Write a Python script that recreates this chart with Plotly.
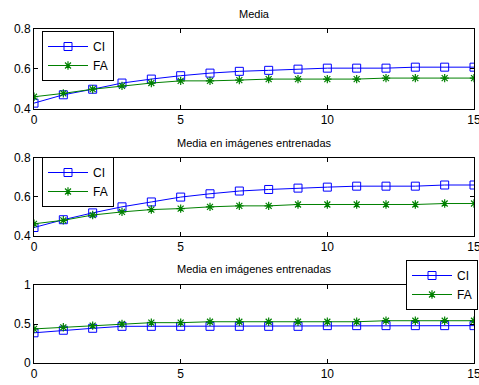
import plotly.graph_objects as go

x = list(range(16))
ci1 = [0.427, 0.469, 0.497, 0.528, 0.548, 0.565, 0.578, 0.587, 0.592, 0.598, 0.603, 0.603, 0.603, 0.608, 0.608, 0.608]
fa1 = [0.459, 0.476, 0.497, 0.514, 0.528, 0.539, 0.539, 0.543, 0.548, 0.548, 0.548, 0.548, 0.553, 0.553, 0.553, 0.553]
ci2 = [0.441, 0.481, 0.516, 0.547, 0.572, 0.597, 0.614, 0.628, 0.636, 0.643, 0.648, 0.653, 0.653, 0.653, 0.659, 0.659]
fa2 = [0.460, 0.478, 0.505, 0.521, 0.533, 0.538, 0.547, 0.552, 0.552, 0.559, 0.559, 0.559, 0.559, 0.559, 0.564, 0.564]
ci3 = [0.387, 0.420, 0.445, 0.470, 0.470, 0.470, 0.470, 0.470, 0.470, 0.470, 0.479, 0.479, 0.479, 0.479, 0.479, 0.479]
fa3 = [0.437, 0.458, 0.479, 0.500, 0.517, 0.517, 0.529, 0.529, 0.529, 0.529, 0.529, 0.529, 0.542, 0.542, 0.542, 0.542]

titles = ["Media", "Media en imágenes entrenadas", "Media en imágenes entrenadas"]
series_names = ["CI", "FA"]
x_ticks = [0, 5, 10, 15]
y_ranges = [[0.4, 0.8], [0.4, 0.8], [0, 1]]
y_ticks = [[0.4, 0.6, 0.8], [0.4, 0.6, 0.8], [0, 0.5, 1]]
y_ticktext = [["0.4", "0.6", "0.8"], ["0.4", "0.6", "0.8"], ["0", "0.5", "1"]]

W, H = 479, 385
x_dom = [34 / W, 474 / W]
y_doms = [[1 - 108.5 / H, 1 - 29 / H], [1 - 235.5 / H, 1 - 157.5 / H], [1 - 363 / H, 1 - 285 / H]]
title_y = [14, 143, 269]
# (x, y, xanchor)
legend_pos = [(42, 31, "left"), (42, 157, "left"), (406, 260, "left")]

BLUE = "rgb(0,0,255)"
GREEN = "rgb(0,128,0)"
FONT = "Liberation Sans, Arial, sans-serif"

fig = go.Figure()
data = [(ci1, fa1), (ci2, fa2), (ci3, fa3)]
layout = {}
annotations = []
for i, (ci, fa) in enumerate(data):
    k = "" if i == 0 else str(i + 1)
    leg = "legend" if i == 0 else f"legend{i+1}"
    fig.add_trace(go.Scatter(
        x=x, y=ci, name=series_names[0], mode="lines+markers",
        line=dict(color=BLUE, width=1),
        marker=dict(symbol="square-open", size=8, color=BLUE, line=dict(width=1, color=BLUE)),
        xaxis=f"x{k}", yaxis=f"y{k}", legend=leg))
    fig.add_trace(go.Scatter(
        x=x, y=fa, name=series_names[1], mode="lines+markers",
        line=dict(color=GREEN, width=1),
        marker=dict(symbol="asterisk-open", size=7, color=GREEN, line=dict(width=1.2, color=GREEN)),
        xaxis=f"x{k}", yaxis=f"y{k}", legend=leg))
    layout[f"xaxis{k}"] = dict(
        domain=x_dom, range=[0, 15], anchor=f"y{k}", tickvals=x_ticks,
        ticks="inside", ticklen=4, tickcolor="black", showline=True, linecolor="black",
        linewidth=1, mirror="ticks", showgrid=False, zeroline=False,
        ticklabeloverflow="allow",
        tickfont=dict(size=12, color="black", family=FONT))
    layout[f"yaxis{k}"] = dict(
        domain=y_doms[i], range=y_ranges[i], anchor=f"x{k}", tickvals=y_ticks[i],
        ticktext=y_ticktext[i],
        ticks="inside", ticklen=4, tickcolor="black", showline=True, linecolor="black",
        linewidth=1, mirror="ticks", showgrid=False, zeroline=False,
        tickfont=dict(size=12, color="black", family=FONT))
    lx, ly, xa = legend_pos[i]
    layout[leg] = dict(
        x=lx / W, y=1 - ly / H, xanchor=xa, yanchor="top",
        bordercolor="black", borderwidth=1, bgcolor="white",
        font=dict(size=12, color="black", family=FONT),
        tracegroupgap=0, itemwidth=40)
    annotations.append(dict(
        text=titles[i], xref="paper", yref="paper",
        x=(x_dom[0] + x_dom[1]) / 2, y=1 - title_y[i] / H,
        xanchor="center", yanchor="middle", showarrow=False,
        font=dict(size=11, color="black", family=FONT)))

fig.update_layout(
    width=W, height=H, margin=dict(l=0, r=0, t=0, b=0, autoexpand=False),
    paper_bgcolor="white", plot_bgcolor="white",
    annotations=annotations, **layout)

fig.write_html("out.html")
